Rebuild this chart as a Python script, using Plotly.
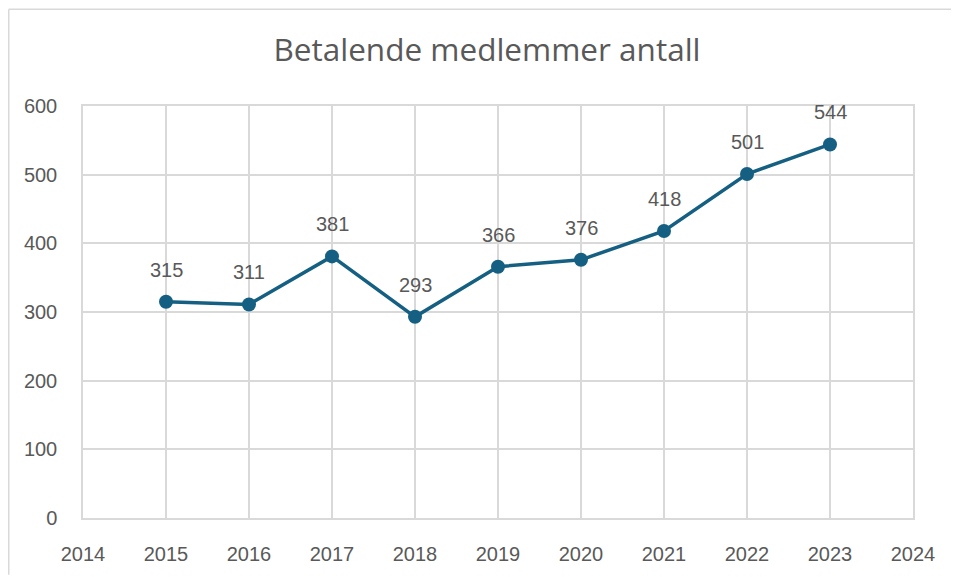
import plotly.graph_objects as go

years = [2015, 2016, 2017, 2018, 2019, 2020, 2021, 2022, 2023]
members = [315, 311, 381, 293, 366, 376, 418, 501, 544]
x_ticks = list(range(2014, 2025))
y_ticks = [0, 100, 200, 300, 400, 500, 600]
title_text = "Betalende medlemmer antall"

line_color = "#156082"
text_color = "#595959"
grid_color = "#d9d9d9"
font_family = "Liberation Sans, Arial, sans-serif"

fig = go.Figure()
fig.add_trace(go.Scatter(
    x=years, y=members, mode="lines+markers",
    line=dict(color=line_color, width=3.5),
    marker=dict(color=line_color, size=14),
    hoverinfo="skip", showlegend=False,
))

for xv, yv in zip(years, members):
    fig.add_annotation(x=xv, y=yv, text=str(yv), showarrow=False,
                       yanchor="bottom", yshift=19,
                       font=dict(size=20, color=text_color, family=font_family))

# page body has an 8px margin, so figure coordinates are screen minus 8
W, H = 951, 569
L, R, T, B = 75, 46, 98, 57
pw, ph = W - L - R, H - T - B

def px_to_paper_x(px):
    return (px - L) / pw

def px_to_paper_y(py):
    return (H - B - py) / ph

border = dict(color="#d9d9d9", width=1.5)
fig.add_shape(type="line", xref="paper", yref="paper",
              x0=px_to_paper_x(0.75), x1=px_to_paper_x(W),
              y0=px_to_paper_y(0.75), y1=px_to_paper_y(0.75),
              line=border, layer="below")
fig.add_shape(type="line", xref="paper", yref="paper",
              x0=px_to_paper_x(0.75), x1=px_to_paper_x(0.75),
              y0=px_to_paper_y(0.75), y1=px_to_paper_y(H),
              line=border, layer="below")

fig.update_layout(
    width=W, height=H,
    margin=dict(l=L, r=R, t=T, b=B),
    paper_bgcolor="white", plot_bgcolor="white",
    title=dict(text=title_text, x=(487 - 8) / W, xanchor="center", y=1 - 42 / H, yanchor="middle",
               font=dict(size=31.5, color=text_color, family="Open Sans, sans-serif")),
    xaxis=dict(range=[2014, 2024], tickvals=x_ticks, ticktext=[str(v) for v in x_ticks],
               showgrid=True, gridcolor=grid_color, gridwidth=1.5,
               showline=True, mirror=True, linecolor=grid_color, linewidth=1.5,
               zeroline=False, ticks="", ticklabelstandoff=17,
               tickfont=dict(size=20, color=text_color, family=font_family)),
    yaxis=dict(range=[0, 600], tickvals=y_ticks,
               showgrid=True, gridcolor=grid_color, gridwidth=1.5,
               showline=True, mirror=True, linecolor=grid_color, linewidth=1.5,
               zeroline=False, ticks="", ticklabelstandoff=20,
               tickfont=dict(size=20, color=text_color, family=font_family)),
)

fig.write_html("out.html")
